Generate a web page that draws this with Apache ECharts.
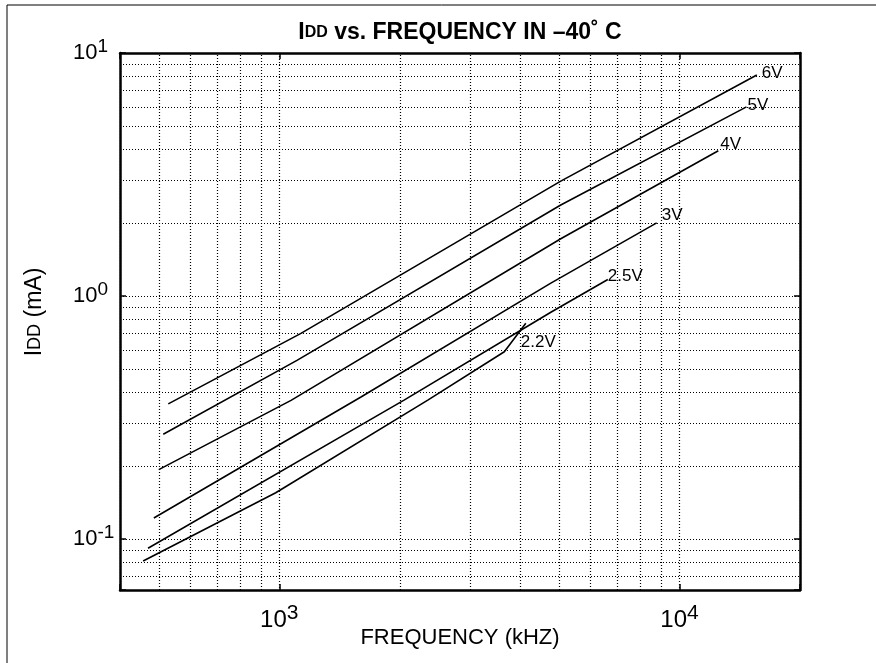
<!DOCTYPE html>
<html>
<head>
<meta charset="utf-8">
<script src="https://cdn.jsdelivr.net/npm/echarts@6/dist/echarts.min.js"></script>
<style>
html,body{margin:0;padding:0;background:#fff;}
#chart{width:876px;height:663px;}
</style>
</head>
<body>
<div id="chart"></div>
<script>
// ---- data (frequency in kHz, IDD in mA) ----
const seriesNames = ['6V', '5V', '4V', '3V', '2.5V', '2.2V'];
const freq6V  = [528, 1130, 5050, 15600];
const idd6V   = [0.36, 0.70, 2.97, 8.12];
const freq5V  = [513, 1110, 5050, 14700];
const idd5V   = [0.27, 0.545, 2.37, 6.0];
const freq4V  = [500, 1070, 5050, 12500];
const idd4V   = [0.193, 0.372, 1.72, 3.96];
const freq3V  = [486, 1600, 4770, 8770];
const idd3V   = [0.122, 0.384, 1.13, 2.0];
const freq25V = [470, 2050, 4770, 6620];
const idd25V  = [0.0916, 0.373, 0.857, 1.17];
const freq22V = [457, 980, 2350, 3650, 4130];
const idd22V  = [0.0812, 0.155, 0.373, 0.59, 0.772];

// axis ranges and minor grid values
const xMin = 400, xMax = 20000;
const yMin = 0.0617, yMax = 10;
const minorX = [500, 600, 700, 800, 900, 2000, 3000, 4000, 5000, 6000, 7000, 8000, 9000];
const minorY = [0.07, 0.08, 0.09, 0.2, 0.3, 0.4, 0.5, 0.6, 0.7, 0.8, 0.9, 2, 3, 4, 5, 6, 7, 8, 9];

const FONT = '"Liberation Sans", Arial, Helvetica, sans-serif';

const freqs = [freq6V, freq5V, freq4V, freq3V, freq25V, freq22V];
const idds  = [idd6V, idd5V, idd4V, idd3V, idd25V, idd22V];
const labelOffsets = [[5, -2], [1, -2], [2, -6], [5, -8], [0, -3], [-5, 19]];

function powLabel(v) {
  const l = Math.log10(v);
  const e = Math.round(l);
  if (Math.abs(l - e) > 1e-6) return '';
  return '{b|10}{s|' + e + '}';
}

const dotted = { type: [1, 2], color: '#000', width: 1.2 };

const series = seriesNames.map((name, i) => ({
  name: name,
  type: 'line',
  xAxisIndex: 0,
  yAxisIndex: 0,
  data: freqs[i].map((f, j) => [f, idds[i][j]]),
  symbol: 'none',
  smooth: false,
  silent: true,
  animation: false,
  lineStyle: { color: '#000', width: 1.6 },
  endLabel: {
    show: true,
    formatter: name,
    color: '#000',
    fontFamily: FONT,
    fontSize: 17,
    distance: 0,
    offset: labelOffsets[i]
  },
  z: 5
}));

// minor grid lines drawn through the axes' own scales
series.push({
  type: 'line',
  data: [],
  silent: true,
  animation: false,
  markLine: {
    silent: true,
    symbol: 'none',
    animation: false,
    label: { show: false },
    lineStyle: dotted,
    emphasis: { disabled: true },
    data: minorX.map(v => ({ xAxis: v })).concat(minorY.map(v => ({ yAxis: v })))
  },
  z: 1
});

const chart = echarts.init(document.getElementById('chart'), null, { renderer: 'canvas' });

const axisCommon = {
  type: 'log',
  logBase: 10,
  axisLine: { show: true, onZero: false, lineStyle: { color: '#000', width: 2.5 } },
  axisTick: { show: true, inside: true, length: 6, lineStyle: { color: '#000', width: 1.5 } },
  minorTick: { show: false },
  minorSplitLine: { show: false }
};

chart.setOption({
  animation: false,
  backgroundColor: '#fff',
  grid: { left: 120, right: 76, top: 53, bottom: 73, containLabel: false },
  xAxis: [
    Object.assign({}, axisCommon, {
      min: xMin, max: xMax, position: 'bottom',
      splitLine: { show: true, lineStyle: dotted },
      axisLabel: {
        show: true, margin: 13, formatter: powLabel,
        fontFamily: FONT, color: '#000',
        rich: {
          b: { fontSize: 24, fontFamily: FONT, color: '#000' },
          s: { fontSize: 21, fontFamily: FONT, color: '#000', padding: [0, 0, 14, 0] }
        }
      }
    }),
    Object.assign({}, axisCommon, {
      min: xMin, max: xMax, position: 'top',
      splitLine: { show: false },
      axisLabel: { show: false }
    })
  ],
  yAxis: [
    Object.assign({}, axisCommon, {
      min: yMin, max: yMax, position: 'left',
      splitLine: { show: true, lineStyle: dotted },
      axisLabel: {
        show: true, margin: 47, align: 'left', formatter: powLabel,
        fontFamily: FONT, color: '#000',
        rich: {
          b: { fontSize: 22, fontFamily: FONT, color: '#000' },
          s: { fontSize: 19, fontFamily: FONT, color: '#000', padding: [0, 0, 12, 0] }
        }
      }
    }),
    Object.assign({}, axisCommon, {
      min: yMin, max: yMax, position: 'right',
      splitLine: { show: false },
      axisLabel: { show: false }
    })
  ],
  graphic: [
    { type: 'line', shape: { x1: 7, y1: 5, x2: 876, y2: 5 }, style: { stroke: '#000', lineWidth: 1 }, silent: true },
    { type: 'line', shape: { x1: 7, y1: 5, x2: 7, y2: 663 }, style: { stroke: '#000', lineWidth: 1 }, silent: true },
    {
      type: 'text', x: 460, y: 33, silent: true,
      style: {
        text: '{a|I}{c|DD}{a| vs. FREQUENCY IN –40˚ C}',
        align: 'center', verticalAlign: 'middle',
        rich: {
          a: { fontSize: 23, fontWeight: 'bold', fontFamily: FONT, fill: '#000' },
          c: { fontSize: 16, fontWeight: 'bold', fontFamily: FONT, fill: '#000' }
        }
      }
    },
    {
      type: 'text', x: 460, y: 638, silent: true,
      style: {
        text: 'FREQUENCY (kHZ)', align: 'center', verticalAlign: 'middle',
        fontSize: 22, fontFamily: FONT, fill: '#000'
      }
    },
    {
      type: 'text', x: 35, y: 312, rotation: Math.PI / 2, silent: true,
      style: {
        text: '{a|I}{c|DD}{a| (mA)}', align: 'center', verticalAlign: 'middle',
        rich: {
          a: { fontSize: 23, fontFamily: FONT, fill: '#000' },
          c: { fontSize: 18, fontFamily: FONT, fill: '#000' }
        }
      }
    }
  ],
  series: series
});
</script>
</body>
</html>
